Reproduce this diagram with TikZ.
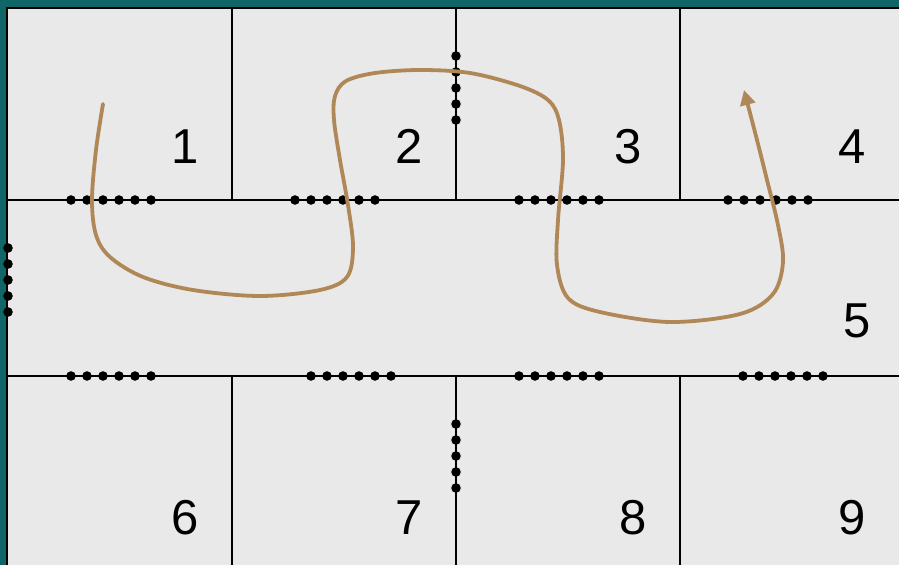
\documentclass[tikz,border=0pt]{standalone}
\usepackage{fontspec}
\setmainfont{Liberation Sans}
\usetikzlibrary{arrows.meta}

\definecolor{wallteal}{RGB}{16,102,102}
\definecolor{floorgray}{RGB}{233,233,233}
\definecolor{pathbrown}{RGB}{176,136,88}

\tikzset{
  wall/.style={line width=2.2pt, black},
  door/.style={fill=black},
  roomnum/.style={anchor=base, font=\fontsize{49}{58}\selectfont},
  route/.style={pathbrown, line width=3.8pt, line cap=round, -{Triangle[width=15pt,length=15pt]}}
}

\begin{document}
\begin{tikzpicture}[x=1pt, y=-1pt]
	\useasboundingbox (0,0) rectangle (899,565);
	
	% outer frame
	\fill[wallteal] (0,0) rectangle (899,565);
	\fill[floorgray] (8,9) rectangle (899,565);
	\draw[wall] (7,565) -- (7,8) -- (899,8);
	
	% walls
	\draw[wall] (8,200) -- (899,200);
	\draw[wall] (8,376) -- (899,376);
	\draw[wall] (232,9) -- (232,200);
	\draw[wall] (456,9) -- (456,200);
	\draw[wall] (680,9) -- (680,200);
	\draw[wall] (232,376) -- (232,565);
	\draw[wall] (456,376) -- (456,565);
	\draw[wall] (680,376) -- (680,565);
	
	% doors
	\foreach \x in {71,295,519,728}
		\foreach \i in {0,...,5}
			\fill[door] (\x+16*\i,200) circle (4.8);
	\foreach \x in {71,311,519,743}
		\foreach \i in {0,...,5}
			\fill[door] (\x+16*\i,376) circle (4.8);
	\foreach \i in {0,...,4} {
		\fill[door] (456,56+16*\i) circle (4.8);
		\fill[door] (456,424+16*\i) circle (4.8);
		\fill[door] (8,248+16*\i) circle (4.8);
	}
	
	% room numbers
	\node[roomnum] (room1) at (185,163) {1};
	\node[roomnum] (room2) at (409,163) {2};
	\node[roomnum] (room3) at (628,163) {3};
	\node[roomnum] (room4) at (852,163) {4};
	\node[roomnum] (room5) at (857,337) {5};
	\node[roomnum] (room6) at (185,534) {6};
	\node[roomnum] (room7) at (409,534) {7};
	\node[roomnum] (room8) at (633,534) {8};
	\node[roomnum] (room9) at (852,534) {9};
	
	% walk through the rooms
	\draw[route] plot[smooth, tension=0.55] coordinates {
		(103,104) (96,150) (92,200) (96,235) (110,257) (143,277) (193,290)
		(260,296) (320,290) (347,277) (353,247) (348,205) (340,160) (334,120)
		(335,96) (346,81) (375,73) (420,70) (470,73) (520,86) (548,100)
		(559,120) (563,160) (558,220) (557,265) (568,298) (600,312) (670,322)
		(740,314) (773,294) (783,262) (778,225) (767,180) (757,140) (744,90)};
	
\end{tikzpicture}
\end{document}
